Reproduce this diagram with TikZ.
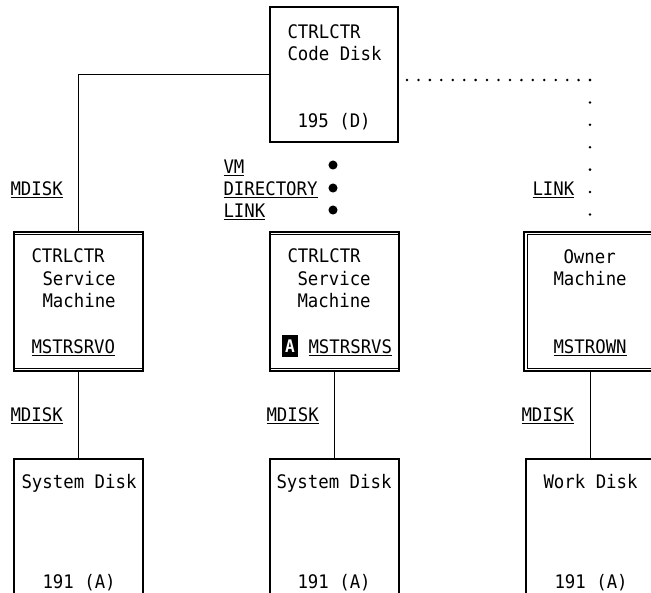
\documentclass[tikz,border=0pt]{standalone}
\usepackage{fontspec}
\newfontfamily\djm[FakeStretch=0.93]{DejaVu Sans Mono}
\usetikzlibrary{fit}
\begin{document}
\begin{tikzpicture}[x=0.75pt,y=-0.75pt, line width=0.8pt,
  box/.style={draw, inner sep=0pt, fit={#1}},
  txt/.style={anchor=base west, inner sep=0pt, font=\djm\fontsize{14}{16}\selectfont},
  bigdot/.style={circle, fill, inner sep=0pt, minimum size=6.8pt},
  dotline/.style={line width=2.1pt, line cap=round, dash pattern=on 0pt off #1}]
\useasboundingbox (0,0) rectangle (651,593);
\clip (0,0) rectangle (651,593);
% boxes
\node[box={(270,7)(398,142)}] (code) {};
\node[box={(14,232)(143,371)}] (svc1) {};
\node[box={(270,232)(399,371)}] (svc2) {};
\node[box={(524,232)(657,371)}] (own) {};
\node[box={(14,459)(143,620)}] (disk1) {};
\node[box={(270,459)(399,620)}] (disk2) {};
\node[box={(526,459)(655,620)}] (disk3) {};
% double borders
\foreach \n in {svc1,svc2} {
  \draw ([yshift=-2.6pt]\n.north west) -- ([yshift=-2.6pt]\n.north east);
  \draw ([yshift=2.6pt]\n.south west) -- ([yshift=2.6pt]\n.south east);
}
\draw ([shift={(2.8pt,-2.6pt)}]own.north west) rectangle ([shift={(-2.8pt,2.6pt)}]own.south east);
% texts in boxes
\node[txt] (c1) at (287,38) {CTRLCTR};
\node[txt] (c2) at (287,60) {Code Disk};
\node[txt] (c3) at (297,127) {195 (D)};
\node[txt] (s11) at (31,262) {CTRLCTR};
\node[txt] (s12) at (42,285) {Service};
\node[txt] (s13) at (42,307) {Machine};
\node[txt] (s14) at (31,353) {\underline{MSTRSRVO}};
\node[txt] (s21) at (287,262) {CTRLCTR};
\node[txt] (s22) at (297,285) {Service};
\node[txt] (s23) at (297,307) {Machine};
\node[txt] (s24) at (308,353) {\underline{MSTRSRVS}};
\node[fill=black, text=white, font=\djm\bfseries\fontsize{13}{15}\selectfont, inner xsep=2.6pt, minimum height=16pt, anchor=west] (abox) at (281,346) {A};
\node[txt] (o1) at (563,263) {Owner};
\node[txt] (o2) at (553,285) {Machine};
\node[txt] (o3) at (553,353) {\underline{MSTROWN}};
\node[txt] (d11) at (21,488) {System Disk};
\node[txt] (d12) at (42,588) {191 (A)};
\node[txt] (d21) at (276,488) {System Disk};
\node[txt] (d22) at (297,588) {191 (A)};
\node[txt] (d31) at (543,488) {Work Disk};
\node[txt] (d32) at (554,588) {191 (A)};
% labels
\node[txt] (l1) at (10,195) {\underline{MDISK}};
\node[txt] (l2) at (223,173) {\underline{VM}};
\node[txt] (l3) at (223,195) {\underline{DIRECTORY}};
\node[txt] (l4) at (223,217) {\underline{LINK}};
\node[txt] (l5) at (532,195) {\underline{LINK}};
\node[txt] (l6) at (10,421) {\underline{MDISK}};
\node[txt] (l7) at (266,421) {\underline{MDISK}};
\node[txt] (l8) at (521,421) {\underline{MDISK}};
% big dots
\node[bigdot] (b1) at (333,165) {};
\node[bigdot] (b2) at (333,188) {};
\node[bigdot] (b3) at (333,210) {};
% connectors
\draw (code.west) -| (svc1.north);
\draw (svc1.south) -- (disk1.north);
\draw (svc2.south) -- (disk2.north);
\draw (own.south) -- (disk3.north);
\coordinate (p1) at (407,80);
\coordinate (p2) at (590,80);
\coordinate (p3) at (590,216);
\draw[dotline=8.58pt] (p1) -- ([xshift=1pt]p2);
\draw[dotline=16.8pt] (p2) -- (p3);
\end{tikzpicture}
\end{document}
